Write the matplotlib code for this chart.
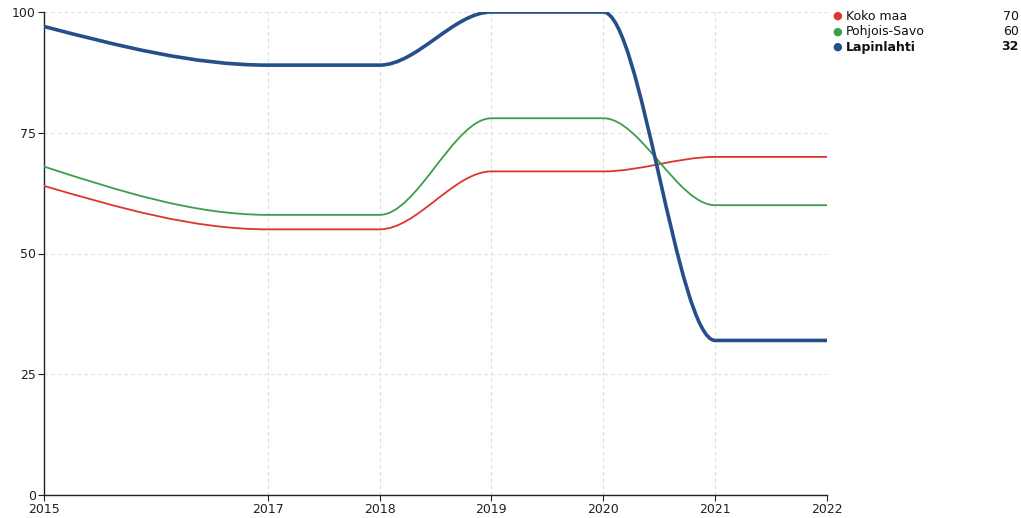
import matplotlib
matplotlib.use("Agg")
import matplotlib.pyplot as plt
import numpy as np
from matplotlib.path import Path
from matplotlib.patches import PathPatch

years = [2015, 2017, 2018, 2019, 2020, 2021, 2022]
koko_maa = [64, 55, 55, 67, 67, 70, 70]
pohjois_savo = [68, 58, 58, 78, 78, 60, 60]
lapinlahti = [97, 89, 89, 100, 100, 32, 32]

names = ["Koko maa", "Pohjois-Savo", "Lapinlahti"]
series = [koko_maa, pohjois_savo, lapinlahti]
colors = ["#dc3530", "#3a9e4c", "#264f8a"]
widths = [1.3, 1.3, 2.6]


def monotone_path(x, y):
    # d3 curveMonotoneX as cubic bezier segments
    x = np.asarray(x, float)
    y = np.asarray(y, float)
    n = len(x)
    h = np.diff(x)
    s = np.diff(y) / h
    t = np.zeros(n)
    for i in range(1, n - 1):
        p = (s[i - 1] * h[i] + s[i] * h[i - 1]) / (h[i - 1] + h[i])
        t[i] = (np.sign(s[i - 1]) + np.sign(s[i])) * min(abs(s[i - 1]), abs(s[i]), 0.5 * abs(p))
    t[0] = (3 * s[0] - t[1]) / 2
    t[-1] = (3 * s[-1] - t[-2]) / 2
    verts = [(x[0], y[0])]
    codes = [Path.MOVETO]
    for i in range(n - 1):
        dx = h[i] / 3
        verts += [(x[i] + dx, y[i] + dx * t[i]),
                  (x[i + 1] - dx, y[i + 1] - dx * t[i + 1]),
                  (x[i + 1], y[i + 1])]
        codes += [Path.CURVE4] * 3
    return Path(verts, codes)


fig = plt.figure(figsize=(10.21, 5.18), dpi=100)
ax = fig.add_axes([44 / 1021, 1 - 495 / 518, (827 - 44) / 1021, (495 - 12) / 518])

for vals, c, w in zip(series, colors, widths):
    ax.add_patch(PathPatch(monotone_path(years, vals), fill=False, edgecolor=c,
                           lw=w, capstyle="round", joinstyle="round", zorder=3))

ax.set_xlim(2015, 2022)
ax.set_ylim(0, 100)
ax.set_xticks(years)
ax.set_xticklabels([str(v) for v in years], family=["Liberation Sans Narrow", "DejaVu Sans"])
ax.set_yticks([0, 25, 50, 75, 100])
ax.tick_params(labelsize=9, length=4, width=0.8, colors="#222222", pad=2)
ax.grid(True, color="#dddddd", linestyle=(0, (3, 3)), linewidth=0.8)
ax.set_axisbelow(True)
for sp in ["top", "right"]:
    ax.spines[sp].set_visible(False)
for sp in ["left", "bottom"]:
    ax.spines[sp].set_color("#222222")
    ax.spines[sp].set_linewidth(1.0)

# legend at the right
for i, (name, vals, c) in enumerate(zip(names, series, colors)):
    yy = 1 - (16 + i * 15.5) / 518
    bold = "bold" if name == "Lapinlahti" else "normal"
    fig.text(837 / 1021, yy, "\u25cf", color=c, fontsize=8, va="center", ha="center")
    fig.text(846 / 1021, yy, name, fontsize=9, va="center", ha="left", weight=bold, color="#111111")
    fig.text(1019 / 1021, yy, str(vals[-1]), fontsize=9, va="center", ha="right", weight=bold, color="#111111")

fig.savefig("out.png", dpi=100)
